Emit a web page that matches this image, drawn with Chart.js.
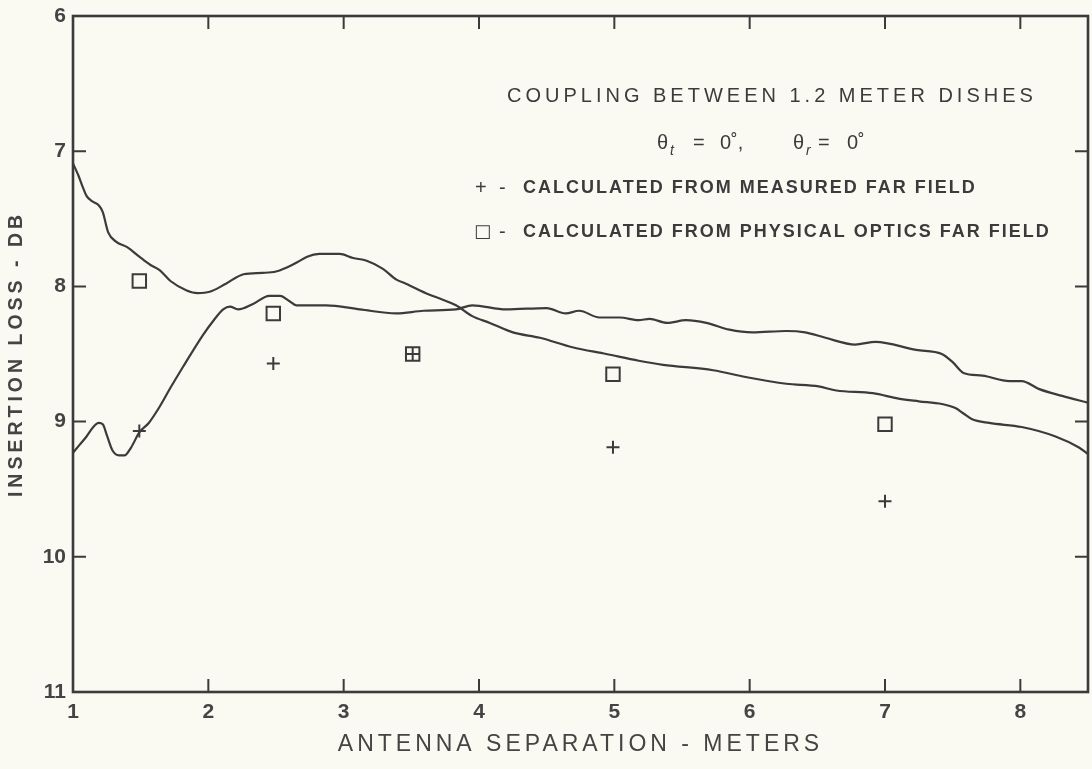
<!DOCTYPE html>
<html>
<head>
<meta charset="utf-8">
<script src="https://cdn.jsdelivr.net/npm/chart.js@4.4.1/dist/chart.umd.min.js"></script>
<style>
  html, body { margin: 0; padding: 0; background: #fafaf3; }
  canvas { display: block; }
</style>
</head>
<body>
<canvas id="myChart" width="1092" height="769"></canvas>
<script>
// tick values
const xTicks = [1, 2, 3, 4, 5, 6, 7, 8];
const yTicks = [6, 7, 8, 9, 10, 11];

// curve starting near 7.1 dB at 1 m
const curveAx = [1.00, 1.04, 1.07, 1.10, 1.14, 1.19, 1.22, 1.26, 1.32, 1.40, 1.49, 1.57, 1.64, 1.72, 1.84, 1.92,
  2.01, 2.13, 2.26, 2.40, 2.50, 2.58, 2.66, 2.73, 2.82, 2.97, 3.07, 3.17, 3.29, 3.39, 3.46, 3.63, 3.71, 3.83,
  3.95, 4.08, 4.25, 4.45, 4.69, 4.94, 5.18, 5.36, 5.73, 5.97, 6.27, 6.51, 6.64, 6.91, 7.10, 7.25, 7.42, 7.52,
  7.58, 7.64, 7.77, 8.01, 8.26, 8.43, 8.50];
const curveAy = [7.09, 7.18, 7.26, 7.33, 7.37, 7.40, 7.45, 7.60, 7.67, 7.71, 7.78, 7.84, 7.88, 7.96, 8.03, 8.05,
  8.04, 7.98, 7.91, 7.90, 7.89, 7.86, 7.82, 7.78, 7.76, 7.76, 7.79, 7.81, 7.87, 7.95, 7.98, 8.06, 8.09, 8.14,
  8.22, 8.27, 8.34, 8.38, 8.45, 8.50, 8.55, 8.58, 8.62, 8.67, 8.72, 8.74, 8.77, 8.79, 8.83, 8.85, 8.87, 8.90,
  8.94, 8.98, 9.01, 9.04, 9.11, 9.19, 9.24];

// curve starting near 9.2 dB at 1 m
const curveBx = [1.00, 1.05, 1.10, 1.15, 1.19, 1.22, 1.25, 1.29, 1.34, 1.38, 1.43, 1.49, 1.56, 1.64, 1.72, 1.81,
  1.96, 2.04, 2.11, 2.16, 2.22, 2.33, 2.45, 2.53, 2.60, 2.65, 2.76, 2.87, 3.12, 3.39, 3.59, 3.83, 3.95, 4.20,
  4.50, 4.64, 4.74, 4.89, 5.04, 5.18, 5.26, 5.39, 5.53, 5.68, 5.85, 6.02, 6.27, 6.41, 6.56, 6.78, 6.93, 7.23,
  7.42, 7.50, 7.58, 7.72, 7.92, 8.01, 8.14, 8.31, 8.50];
const curveBy = [9.23, 9.17, 9.11, 9.04, 9.01, 9.02, 9.10, 9.21, 9.25, 9.25, 9.19, 9.08, 9.01, 8.89, 8.75, 8.60,
  8.36, 8.25, 8.17, 8.15, 8.17, 8.13, 8.07, 8.07, 8.11, 8.14, 8.14, 8.14, 8.17, 8.20, 8.18, 8.17, 8.14, 8.17,
  8.16, 8.20, 8.18, 8.23, 8.23, 8.25, 8.24, 8.27, 8.25, 8.27, 8.32, 8.34, 8.33, 8.34, 8.38, 8.43, 8.41, 8.47,
  8.50, 8.56, 8.64, 8.66, 8.70, 8.70, 8.76, 8.81, 8.86];

// point values
const markX = [1.49, 2.48, 3.51, 4.99, 7.00];
const measuredY = [9.07, 8.57, 8.50, 9.19, 9.59];
const opticsY = [7.96, 8.20, 8.50, 8.65, 9.02];

function pts(xs, ys) {
  return xs.map((x, i) => ({ x: x, y: ys[i] }));
}

const ink = '#3b3b3b';

const frame = {
  id: 'frame',
  beforeDraw(chart) {
    // spacing for the two axis titles (tick labels are drawn later, on z 1)
    chart.ctx.letterSpacing = '4px';
  },
  beforeDatasetsDraw(chart) {
    chart.ctx.letterSpacing = '0px';
  },
  afterDraw(chart) {
    const { ctx, chartArea: a, scales: { x, y } } = chart;
    ctx.save();
    ctx.strokeStyle = ink;
    ctx.lineWidth = 2.6;
    ctx.strokeRect(a.left, a.top, a.right - a.left, a.bottom - a.top);

    // inward ticks on all four sides
    ctx.lineWidth = 2;
    ctx.beginPath();
    xTicks.forEach(v => {
      const px = x.getPixelForValue(v);
      ctx.moveTo(px, a.bottom); ctx.lineTo(px, a.bottom - 13);
      ctx.moveTo(px, a.top); ctx.lineTo(px, a.top + 13);
    });
    yTicks.forEach(v => {
      const py = y.getPixelForValue(v);
      ctx.moveTo(a.left, py); ctx.lineTo(a.left + 13, py);
      ctx.moveTo(a.right, py); ctx.lineTo(a.right - 13, py);
    });
    ctx.stroke();

    // notes inside the plot
    ctx.fillStyle = ink;
    ctx.textBaseline = 'middle';
    ctx.textAlign = 'left';

    ctx.letterSpacing = '4px';
    ctx.font = '20px "Liberation Sans"';
    ctx.fillText('COUPLING BETWEEN 1.2 METER DISHES', 507, 96);

    ctx.letterSpacing = '0px';
    ctx.font = '20px "Liberation Sans"';
    ctx.fillText('\u03b8', 657, 143);
    ctx.fillText('=', 693, 143);
    ctx.fillText('0\u02da,', 720, 143);
    ctx.fillText('\u03b8', 793, 143);
    ctx.fillText('=', 818, 143);
    ctx.fillText('0\u02da', 847, 143);
    ctx.font = 'italic 14px "Liberation Sans"';
    ctx.fillText('t', 670, 151);
    ctx.fillText('r', 806, 151);

    ctx.font = '20px "Liberation Sans"';
    ctx.fillText('+', 475, 188);
    ctx.fillText('-', 499, 188);
    ctx.font = '18px "DejaVu Sans"';
    ctx.fillText('\u25a1', 474, 232);
    ctx.font = '20px "Liberation Sans"';
    ctx.fillText('-', 499, 232);

    ctx.letterSpacing = '2px';
    ctx.font = 'bold 18px "Liberation Sans"';
    ctx.fillText('CALCULATED FROM MEASURED FAR FIELD', 523, 188);
    ctx.fillText('CALCULATED FROM PHYSICAL OPTICS FAR FIELD', 523, 232);
    ctx.letterSpacing = '0px';
    ctx.restore();
  }
};

const lineStyle = {
  showLine: true,
  borderColor: ink,
  borderWidth: 2.2,
  pointRadius: 0,
  cubicInterpolationMode: 'monotone'
};

const data = {
  datasets: [
    Object.assign({ label: 'Curve A', data: pts(curveAx, curveAy) }, lineStyle),
    Object.assign({ label: 'Curve B', data: pts(curveBx, curveBy) }, lineStyle),
    {
      label: 'Calculated from measured far field',
      data: pts(markX, measuredY),
      pointStyle: 'cross',
      pointRadius: 6.5,
      borderWidth: 2,
      borderColor: ink,
      showLine: false
    },
    {
      label: 'Calculated from physical optics far field',
      data: pts(markX, opticsY),
      pointStyle: 'rect',
      pointRadius: 9.5,
      borderWidth: 2,
      borderColor: ink,
      backgroundColor: 'rgba(0,0,0,0)',
      showLine: false
    }
  ]
};

const config = {
  type: 'scatter',
  data: data,
  plugins: [frame],
  options: {
    responsive: false,
    animation: false,
    devicePixelRatio: 1,
    layout: { autoPadding: false, padding: { top: 16, right: 4, bottom: 0, left: 0 } },
    plugins: {
      legend: { display: false },
      tooltip: { enabled: false }
    },
    scales: {
      x: {
        type: 'linear',
        min: 1,
        max: 8.5,
        afterBuildTicks: s => { s.ticks = xTicks.map(v => ({ value: v })); },
        afterFit: s => {
          s.height = 77;
          s.paddingLeft = 0;
          s.paddingRight = 0;
        },
        grid: { display: false, drawTicks: false },
        border: { display: false },
        ticks: {
          z: 1,
          padding: 8,
          color: '#444',
          font: { family: 'Liberation Sans', size: 21, weight: 'bold' }
        },
        title: {
          display: true,
          text: 'ANTENNA SEPARATION - METERS',
          color: '#444',
          font: { family: 'Liberation Sans', size: 23 },
          padding: { top: 0, bottom: 11 }
        }
      },
      y: {
        type: 'linear',
        reverse: true,
        min: 6,
        max: 11,
        afterBuildTicks: s => { s.ticks = yTicks.map(v => ({ value: v })); },
        afterFit: s => {
          s.width = 73;
          s.paddingTop = 0;
          s.paddingBottom = 0;
        },
        grid: { display: false, drawTicks: false },
        border: { display: false },
        ticks: {
          z: 1,
          padding: 7,
          color: '#444',
          font: { family: 'Liberation Sans', size: 21, weight: 'bold' }
        },
        title: {
          display: true,
          text: 'INSERTION LOSS - DB',
          color: '#444',
          font: { family: 'Liberation Sans', size: 19.5, weight: 'bold' },
          padding: { top: 5, bottom: 0 }
        }
      }
    }
  }
};

const myChart = new Chart(document.getElementById('myChart'), config);
</script>
</body>
</html>
